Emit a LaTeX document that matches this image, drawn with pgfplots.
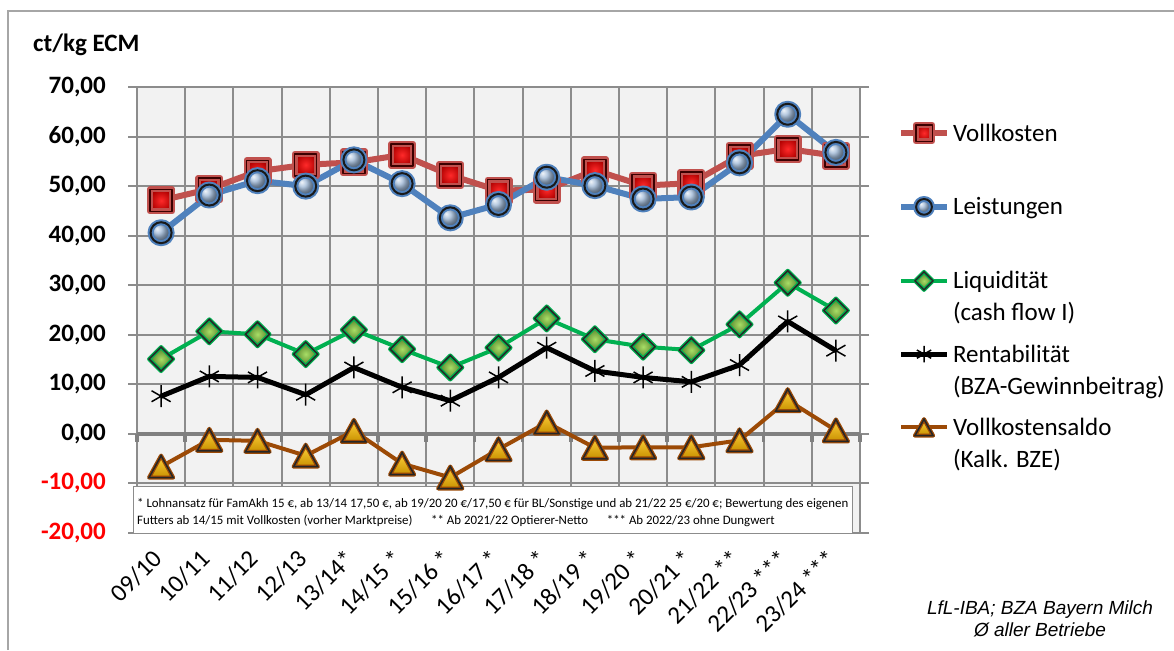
\documentclass[border=0pt]{standalone}
\usepackage{fontspec}
\setmainfont{Carlito}
\newfontfamily\arialfont{Liberation Sans}
\usepackage{graphicx}
\usepackage{pgfplots}
\pgfplotsset{compat=1.18}

\definecolor{gridgray}{HTML}{8C8C8C}
\definecolor{zerogray}{HTML}{808080}
\definecolor{framegray}{HTML}{A6A6A6}
\definecolor{bggray}{HTML}{F2F2F2}
\definecolor{vkline}{HTML}{C0504D}
\definecolor{vkin}{HTML}{FF2A2A}
\definecolor{vkout}{HTML}{B00000}
\definecolor{vkbd}{HTML}{3A0000}
\definecolor{lsline}{HTML}{4F81BD}
\definecolor{lsball}{HTML}{9DB7D6}
\definecolor{lqline}{HTML}{00B050}
\definecolor{lqin}{HTML}{A8DE66}
\definecolor{lqout}{HTML}{4E7A26}
\definecolor{saline}{HTML}{9C4A06}
\definecolor{satop}{HTML}{FFD23C}
\definecolor{sabot}{HTML}{C89000}
\definecolor{negred}{HTML}{FF0000}

\pgfdeclareplotmark{vksq}{%
  \shade[inner color=vkin, outer color=vkout] (-\pgfplotmarksize,-\pgfplotmarksize) rectangle (\pgfplotmarksize,\pgfplotmarksize);
  \draw[line width=1.5pt, vkbd] (-\pgfplotmarksize,-\pgfplotmarksize) rectangle (\pgfplotmarksize,\pgfplotmarksize);}
\pgfdeclareplotmark{lsballm}{%
  \shade[ball color=lsball] (0pt,0pt) circle (\pgfplotmarksize);
  \draw[line width=2pt, black!90] (0pt,0pt) circle (\pgfplotmarksize);}
\pgfdeclareplotmark{lqdia}{%
  \shade[inner color=lqin, outer color=lqout] (0pt,\pgfplotmarksize) -- (\pgfplotmarksize,0pt) -- (0pt,-\pgfplotmarksize) -- (-\pgfplotmarksize,0pt) -- cycle;
  \draw[line width=1.5pt, black!85, line join=miter] (0pt,\pgfplotmarksize) -- (\pgfplotmarksize,0pt) -- (0pt,-\pgfplotmarksize) -- (-\pgfplotmarksize,0pt) -- cycle;}
\pgfdeclareplotmark{satri}{%
  \shade[top color=satop, bottom color=sabot] (0pt,\pgfplotmarksize) -- (1.1\pgfplotmarksize,-\pgfplotmarksize) -- (-1.1\pgfplotmarksize,-\pgfplotmarksize) -- cycle;
  \draw[line width=1.5pt, black!85, line join=miter] (0pt,\pgfplotmarksize) -- (1.1\pgfplotmarksize,-\pgfplotmarksize) -- (-1.1\pgfplotmarksize,-\pgfplotmarksize) -- cycle;}

\begin{document}
\begin{tikzpicture}
\useasboundingbox (0,0) rectangle (1174pt,-650pt);
\draw[framegray, line width=1.5pt] (8pt,-650pt) -- (8pt,-11pt) -- (1174pt,-11pt);
\node[anchor=base west, inner sep=0pt, font=\fontsize{25}{30}\selectfont\bfseries] at (33pt,-52pt) {ct/kg ECM};

\begin{axis}[
  at={(137pt,-533pt)}, anchor=south west,
  scale only axis, width=723pt, height=446pt,
  xmin=-0.5, xmax=14.5, ymin=-20, ymax=70,
  clip=false,
  axis background/.style={fill=bggray},
  axis line style={draw=gridgray, line width=2pt},
  xtick={0,...,14},
  xticklabels={09/10,10/11,11/12,12/13,13/14*,14/15 *,15/16 *,16/17 *,17/18 *,18/19 *,19/20 *,20/21 *,21/22 **,22/23 ***,23/24 ***},
  minor xtick={-0.5,0.5,...,14.5},
  ytick={-20,-10,...,70},
  yticklabels={{\textcolor{negred}{-20,00}},{\textcolor{negred}{-10,00}},{0,00},{10,00},{20,00},{30,00},{40,00},{50,00},{60,00},{70,00}},
  xmajorgrids=false, xminorgrids=true, ymajorgrids=true,
  major grid style={draw=gridgray, line width=2pt},
  minor grid style={draw=gridgray, line width=2pt},
  tick align=outside,
  major tick length=9pt, minor tick length=0pt,
  xtick style={draw=none},
  ytick style={draw=gridgray, line width=2pt},
  yticklabel style={font=\fontsize{25}{30}\selectfont\bfseries, anchor=east, inner sep=0pt, xshift=-22pt},
  xticklabel style={font=\fontsize{25}{30}\selectfont, xshift=-10pt, yshift=-6pt, rotate=45, anchor=north east, inner sep=0pt},
  legend style={at={(1.05256,0.92208)}, anchor=north west, draw=none, fill=none, inner sep=0pt, outer sep=0pt,
    row sep=0pt, column sep=3pt, font=\fontsize{25}{32}\selectfont,
    nodes={anchor=base west, inner sep=0pt, text height=18.25pt, text depth=55pt}},
  legend image code/.code={\draw[mark repeat=2, mark phase=2, every mark/.append style={scale=0.75}, #1] plot coordinates {(0pt,8pt) (23pt,8pt) (46pt,8pt)};},
]
% footnote box
\draw[fill=white, draw=gridgray, line width=1pt] (axis cs:-0.583,-10.69) rectangle (axis cs:14.334,-20);
\node[anchor=north west, inner sep=0pt] at (axis cs:-0.5,-12.3) {\resizebox{711pt}{!}{\fontsize{11.5}{15.5}\selectfont\begin{tabular}{@{}l@{}}* Lohnansatz für FamAkh 15 €, ab 13/14 17,50 €, ab 19/20 20 €/17,50 € für BL/Sonstige und ab 21/22 25 €/20 €; Bewertung des eigenen\\Futters ab 14/15 mit Vollkosten (vorher Marktpreise)\quad\ \ ** Ab 2021/22 Optierer-Netto\quad\ \ *** Ab 2022/23 ohne Dungwert\end{tabular}}};
% zero line
\draw[zerogray, line width=4pt] (axis cs:-0.5,0) -- (axis cs:14.5,0);
\pgfplotsinvokeforeach{-0.5,0.5,...,14.5}{\draw[zerogray, line width=3.5pt] (axis cs:#1,0) -- ++(0pt,-8pt);}

\addplot[vkline, line width=6pt, line join=round, mark=vksq, mark size=11pt] coordinates {
(0,47.1) (1,49.4) (2,53.0) (3,54.3) (4,54.8) (5,56.3) (6,52.2) (7,49.1) (8,49.3) (9,53.2) (10,50.1) (11,50.6) (12,56.1) (13,57.5) (14,56.1)};
\addlegendentry{Vollkosten}
\addplot[lsline, line width=6pt, line join=round, mark=lsballm, mark size=10.5pt] coordinates {
(0,40.6) (1,48.2) (2,51.1) (3,50.0) (4,55.3) (5,50.5) (6,43.6) (7,46.3) (8,51.8) (9,50.1) (10,47.4) (11,47.8) (12,54.7) (13,64.5) (14,56.8)};
\addlegendentry{Leistungen}
\addplot[lqline, line width=4pt, line join=round, mark=lqdia, mark size=12pt] coordinates {
(0,15.1) (1,20.7) (2,20.1) (3,16.1) (4,21.0) (5,17.1) (6,13.4) (7,17.4) (8,23.3) (9,19.1) (10,17.6) (11,16.9) (12,22.1) (13,30.5) (14,24.9)};
\addlegendentry{\parbox[t]{240pt}{Liquidität\\(cash flow I)}}
\addplot[black, line width=5pt, line join=round, mark=asterisk, mark size=11pt, mark options={line width=1.5pt, black}] coordinates {
(0,7.6) (1,11.6) (2,11.4) (3,7.9) (4,13.4) (5,9.4) (6,6.7) (7,11.4) (8,17.4) (9,12.7) (10,11.4) (11,10.5) (12,13.9) (13,22.7) (14,16.8)};
\addlegendentry{\parbox[t]{240pt}{Rentabilität\\(BZA-Gewinnbeitrag)}}
\addplot[saline, line width=4pt, line join=round, mark=satri, mark size=11pt] coordinates {
(0,-6.6) (1,-1.2) (2,-1.4) (3,-4.4) (4,0.6) (5,-6.0) (6,-8.8) (7,-3.1) (8,2.3) (9,-2.8) (10,-2.7) (11,-2.7) (12,-1.3) (13,6.8) (14,0.7)};
\addlegendentry{\parbox[t]{240pt}{Vollkostensaldo\\(Kalk. BZE)}}
\end{axis}

\node[align=center, inner sep=0pt, font=\arialfont\itshape\fontsize{19}{22}\selectfont] at (1040pt,-619pt) {LfL-IBA; BZA Bayern Milch\\Ø aller Betriebe};
\end{tikzpicture}
\end{document}
